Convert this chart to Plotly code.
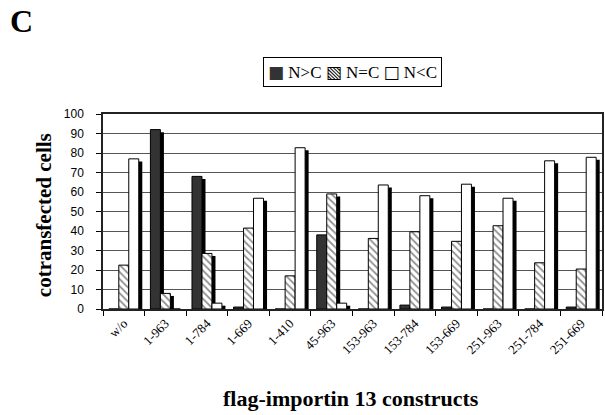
import plotly.graph_objects as go

categories = ["w/o", "1-963", "1-784", "1-669", "1-410", "45-963", "153-963",
              "153-784", "153-669", "251-963", "251-784", "251-669"]
n_gt_c = [0, 92, 68, 1, 0, 38, 0, 2, 1, 0, 0, 1]
n_eq_c = [22.5, 8, 28.5, 41.5, 17, 59, 36.2, 39.6, 34.7, 42.7, 23.7, 20.5]
n_lt_c = [77, 0, 3, 56.8, 82.7, 3, 63.6, 58.1, 64, 56.8, 76, 77.8]
y_ticks = [0, 10, 20, 30, 40, 50, 60, 70, 80, 90, 100]
series_names = ["N>C", "N=C", "N<C"]

styles = [
    dict(color="#333333"),
    dict(color="white", pattern=dict(shape="\\", fgcolor="#222222",
                                     bgcolor="white", size=5, solidity=0.35)),
    dict(color="white"),
]

bar_w = 0.24
offsets = [-0.36, -0.12, 0.12]
shadow_dx = 0.085
shadow_drop = 1.3

fig = go.Figure()
series = list(zip(series_names, [n_gt_c, n_eq_c, n_lt_c], styles, offsets))
# 3D-like side shadows first
for name, vals, mk, off in series:
    fig.add_trace(go.Bar(
        x=categories, y=[max(v - shadow_drop, 0) if v > 0 else 0 for v in vals],
        offset=off + shadow_dx, width=bar_w,
        marker=dict(color="black", line=dict(width=0)),
        showlegend=False, hoverinfo="skip"))
for name, vals, mk, off in series:
    m = dict(mk)
    m["line"] = dict(color="black", width=1)
    fig.add_trace(go.Bar(x=categories, y=vals, name=name, offset=off, width=bar_w,
                         marker=m, showlegend=False))

legend_text = ('<span style="font-family:DejaVu Sans;color:#333333">■</span> N&gt;C '
               '<span style="font-family:DejaVu Sans">▧</span> N=C '
               '<span style="font-family:DejaVu Sans">□</span> N&lt;C')

fig.update_layout(
    width=605, height=415,
    barmode="overlay",
    plot_bgcolor="white", paper_bgcolor="white",
    margin=dict(l=103, r=3, t=114, b=106, autoexpand=False),
    font=dict(family="Liberation Serif", color="black"),
    showlegend=False,
    xaxis=dict(type="category", tickson="boundaries", ticks="outside", ticklen=5,
               tickcolor="black", tickangle=-45, showline=True, linecolor="#222222",
               linewidth=1.5, mirror=True, showgrid=False,
               tickfont=dict(family="Liberation Serif", size=13, color="black")),
    yaxis=dict(range=[0, 100], tickvals=y_ticks, showgrid=True, gridcolor="#555555",
               gridwidth=1, showline=True, linecolor="#222222", linewidth=1.5, mirror=True,
               ticks="outside", ticklen=5, tickcolor="black", ticklabelstandoff=10,
               tickfont=dict(family="Liberation Sans", size=12, color="black")),
)
fig.add_annotation(text="<b>cotransfected cells</b>", x=-0.118, y=0.482,
                   xref="paper", yref="paper", xanchor="center", yanchor="middle",
                   showarrow=False, textangle=-90,
                   font=dict(family="Liberation Serif", size=21, color="black"))
fig.add_annotation(text="<b>flag-importin 13 constructs</b>", x=0.497, y=-0.4615,
                   xref="paper", yref="paper", xanchor="center", yanchor="middle",
                   showarrow=False,
                   font=dict(family="Liberation Serif", size=22, color="black"))
fig.add_annotation(text="<b>C</b>", x=-0.1643, y=1.477, xref="paper", yref="paper",
                   xanchor="center", yanchor="middle", showarrow=False,
                   font=dict(family="Liberation Serif", size=32, color="black"))
fig.add_annotation(text=legend_text, x=0.499, y=1.215, xref="paper", yref="paper",
                   xanchor="center", yanchor="middle",
                   showarrow=False, bordercolor="black", borderwidth=1, borderpad=4,
                   font=dict(family="Liberation Serif", size=17, color="black"))
# remove the default page margin so the 605x415 figure fills the window exactly
fig.write_html("out.html", config={"displayModeBar": False},
               post_script="document.body.style.margin='0';")
